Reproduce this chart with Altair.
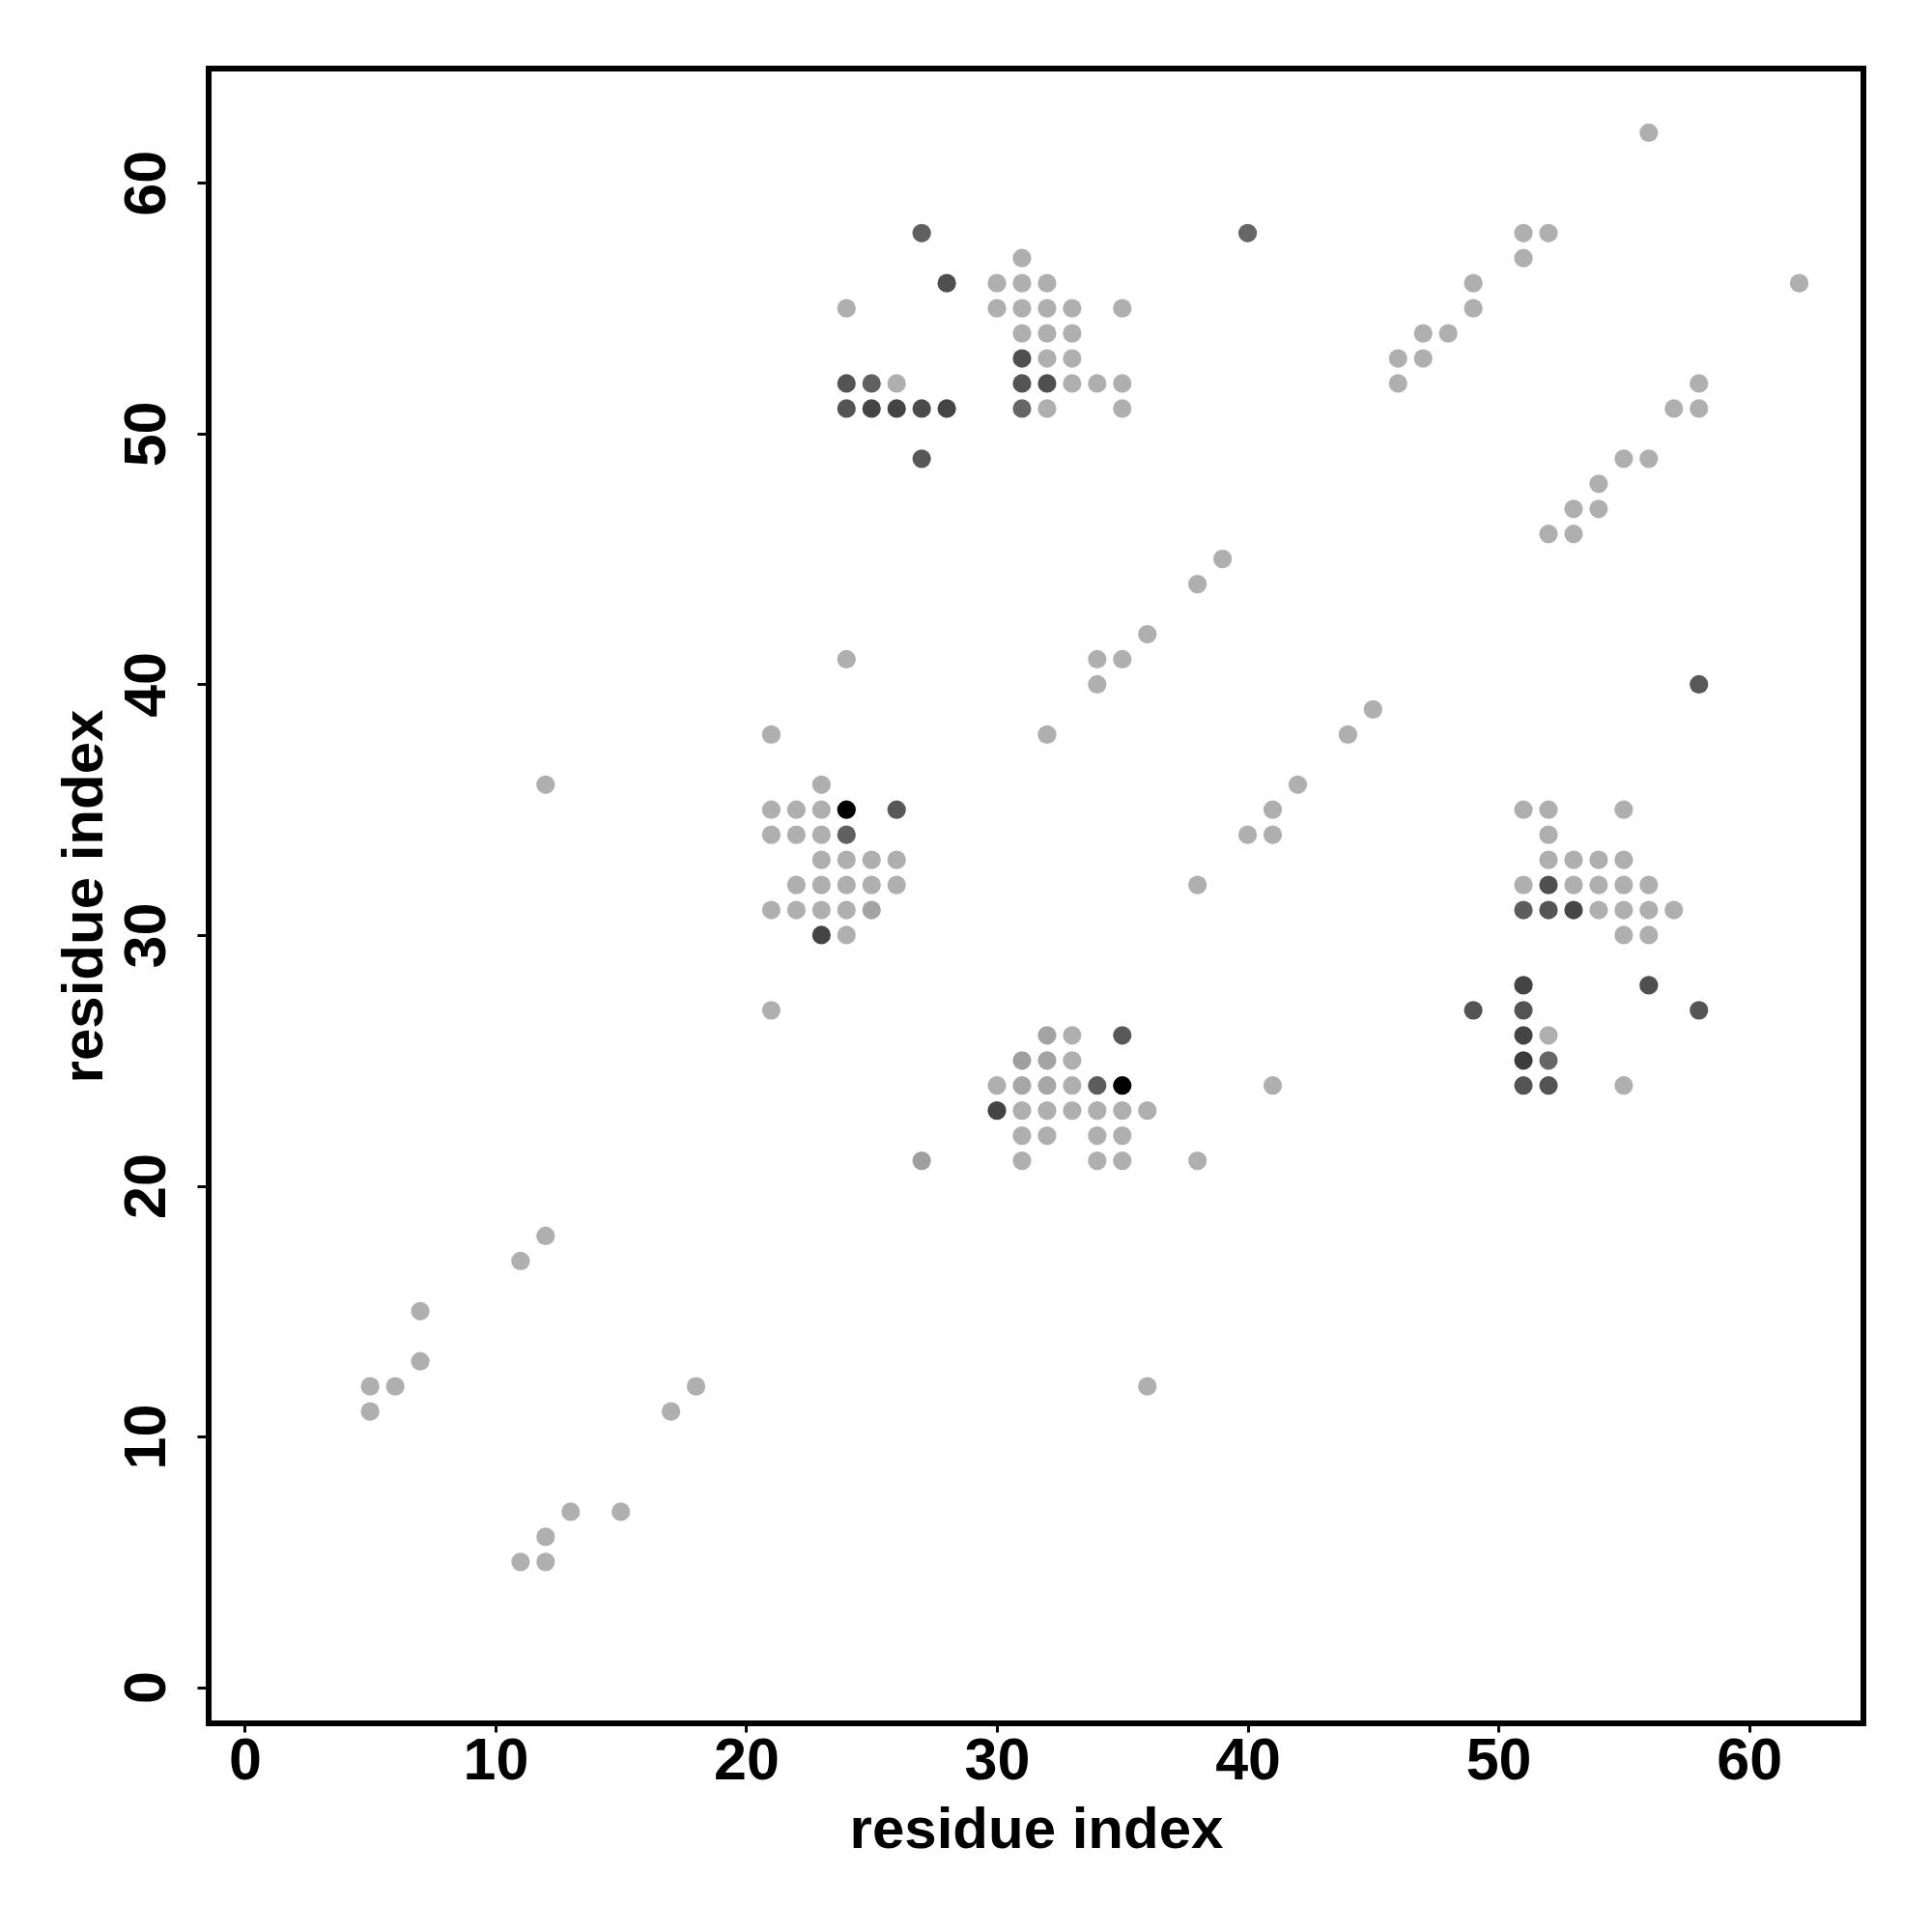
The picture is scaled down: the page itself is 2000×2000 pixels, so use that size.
import altair as alt
import pandas as pd

# contact map: residue i (x), residue j (y), contact intensity (0 = weak/light grey, 1 = strongest/black)
res_i = [
    56,
    27, 40, 51, 52,
    31, 51,
    28, 30, 31, 32, 49, 62,
    24, 30, 31, 32, 33, 35, 49,
    31, 32, 33, 47, 48,
    31, 32, 33, 46, 47,
    24, 25, 26, 31, 32, 33, 34, 35, 46, 58,
    24, 25, 26, 27, 28, 31, 32, 35, 57, 58,
    27, 55, 56,
    54,
    53, 54,
    52, 53,
    39,
    38,
    36,
    24, 34, 35,
    34, 58,
    45,
    21, 32, 44,
    12, 23, 42,
    21, 22, 23, 24, 26, 41, 51, 52, 55,
    21, 22, 23, 24, 40, 41, 52,
    23, 24, 25, 26, 52, 53, 54, 55,
    22, 23, 24, 25, 26, 38, 51, 52, 53, 54, 55, 56,
    21, 22, 23, 24, 25, 51, 52, 53, 54, 55, 56, 57,
    23, 24, 55, 56,
    51, 56,
    21, 49, 51, 58,
    32, 33, 35, 51, 52,
    31, 32, 33, 51, 52,
    30, 31, 32, 33, 34, 35, 41, 51, 52, 55,
    30, 31, 32, 33, 34, 35, 36,
    31, 32, 34, 35,
    27, 31, 34, 35, 38,
    12,
    11,
    7,
    7,
    5, 6, 18, 36,
    5, 17,
    13, 15,
    12,
    11, 12,
]
res_j = [
    62,
    58, 58, 58, 58,
    57, 57,
    56, 56, 56, 56, 56, 56,
    55, 55, 55, 55, 55, 55, 55,
    54, 54, 54, 54, 54,
    53, 53, 53, 53, 53,
    52, 52, 52, 52, 52, 52, 52, 52, 52, 52,
    51, 51, 51, 51, 51, 51, 51, 51, 51, 51,
    49, 49, 49,
    48,
    47, 47,
    46, 46,
    45,
    44,
    42,
    41, 41, 41,
    40, 40,
    39,
    38, 38, 38,
    36, 36, 36,
    35, 35, 35, 35, 35, 35, 35, 35, 35,
    34, 34, 34, 34, 34, 34, 34,
    33, 33, 33, 33, 33, 33, 33, 33,
    32, 32, 32, 32, 32, 32, 32, 32, 32, 32, 32, 32,
    31, 31, 31, 31, 31, 31, 31, 31, 31, 31, 31, 31,
    30, 30, 30, 30,
    28, 28,
    27, 27, 27, 27,
    26, 26, 26, 26, 26,
    25, 25, 25, 25, 25,
    24, 24, 24, 24, 24, 24, 24, 24, 24, 24,
    23, 23, 23, 23, 23, 23, 23,
    22, 22, 22, 22,
    21, 21, 21, 21, 21,
    18,
    17,
    15,
    13,
    12, 12, 12, 12,
    11, 11,
    7, 7,
    6,
    5, 5,
]
intensity = [
    0,
    0.45, 0.42, 0, 0,
    0, 0,
    0.55, 0, 0, 0, 0, 0,
    0, 0, 0, 0, 0, 0, 0,
    0, 0, 0, 0, 0,
    0.55, 0, 0, 0, 0,
    0.52, 0.45, 0, 0.52, 0.55, 0, 0, 0, 0, 0,
    0.52, 0.61, 0.61, 0.57, 0.61, 0.42, 0, 0, 0, 0,
    0.5, 0, 0,
    0,
    0, 0,
    0, 0,
    0,
    0,
    0,
    0, 0, 0,
    0, 0.5,
    0,
    0, 0, 0,
    0, 0, 0,
    0, 0, 0, 1.0, 0.5, 0, 0, 0, 0,
    0, 0, 0, 0.45, 0, 0, 0,
    0, 0, 0, 0, 0, 0, 0, 0,
    0, 0, 0, 0, 0, 0, 0, 0.55, 0, 0, 0, 0,
    0, 0, 0, 0, 0.07, 0.47, 0.52, 0.6, 0, 0, 0, 0,
    0.61, 0, 0, 0,
    0.61, 0.55,
    0, 0.52, 0.52, 0.52,
    0.07, 0, 0.5, 0.61, 0,
    0.09, 0.07, 0, 0.66, 0.42,
    0, 0.05, 0.05, 0, 0.47, 1.0, 0, 0.52, 0.52, 0,
    0.61, 0, 0, 0, 0, 0, 0,
    0, 0, 0, 0,
    0.09, 0, 0, 0, 0,
    0,
    0,
    0,
    0,
    0, 0, 0, 0,
    0, 0,
    0, 0,
    0,
    0, 0,
]
tick_values = [0, 10, 20, 30, 40, 50, 60]

df = pd.DataFrame({"i": res_i, "j": res_j, "w": intensity})

FONT = "Liberation Sans"
dom = [-1.44, 64.56]
W = 1713

x_axis = alt.Axis(
    values=tick_values, title="residue index", format="d",
    tickSize=9, tickWidth=3, tickColor="black",
    labelPadding=0, labelBaseline="top", labelAlign="center",
    labelFontSize=61, labelFont=FONT, labelFontWeight="bold", labelColor="black",
    labelFlush=False, labelOverlap=False, labelBound=False,
    titleFontSize=60, titleFont=FONT, titleFontWeight="bold", titleColor="black",
    titleBaseline="alphabetic", titleAlign="center", titleX=W / 2, titleY=128,
)
y_axis = alt.Axis(
    values=tick_values, title="residue index", format="d",
    tickSize=12, tickWidth=3, tickColor="black",
    labelPadding=34, labelAngle=270, labelBaseline="alphabetic", labelAlign="center",
    labelFontSize=61, labelFont=FONT, labelFontWeight="bold", labelColor="black",
    labelFlush=False, labelOverlap=False, labelBound=False,
    titleFontSize=60, titleFont=FONT, titleFontWeight="bold", titleColor="black",
    titleAngle=270, titleBaseline="alphabetic", titleAlign="center", titleX=-111, titleY=W / 2,
)

chart = (
    alt.Chart(df)
    .mark_circle(size=370, opacity=1)
    .encode(
        x=alt.X("i:Q", scale=alt.Scale(domain=dom, nice=False, zero=False), axis=x_axis),
        y=alt.Y("j:Q", scale=alt.Scale(domain=dom, nice=False, zero=False), axis=y_axis),
        color=alt.Color(
            "w:Q",
            scale=alt.Scale(domain=[0, 1], range=["#afafaf", "#000000"], interpolate="rgb"),
            legend=None,
        ),
    )
    .properties(
        width=W,
        height=W,
        autosize=alt.AutoSizeParams(type="none"),
        padding={"left": 208, "top": 63, "right": 60, "bottom": 200},
        background="white",
    )
    .configure_view(stroke="black", strokeWidth=6, fill="white")
    .configure_axis(grid=False, domain=False)
)

chart.save("out.html", embed_options={"renderer": "svg", "actions": False})
